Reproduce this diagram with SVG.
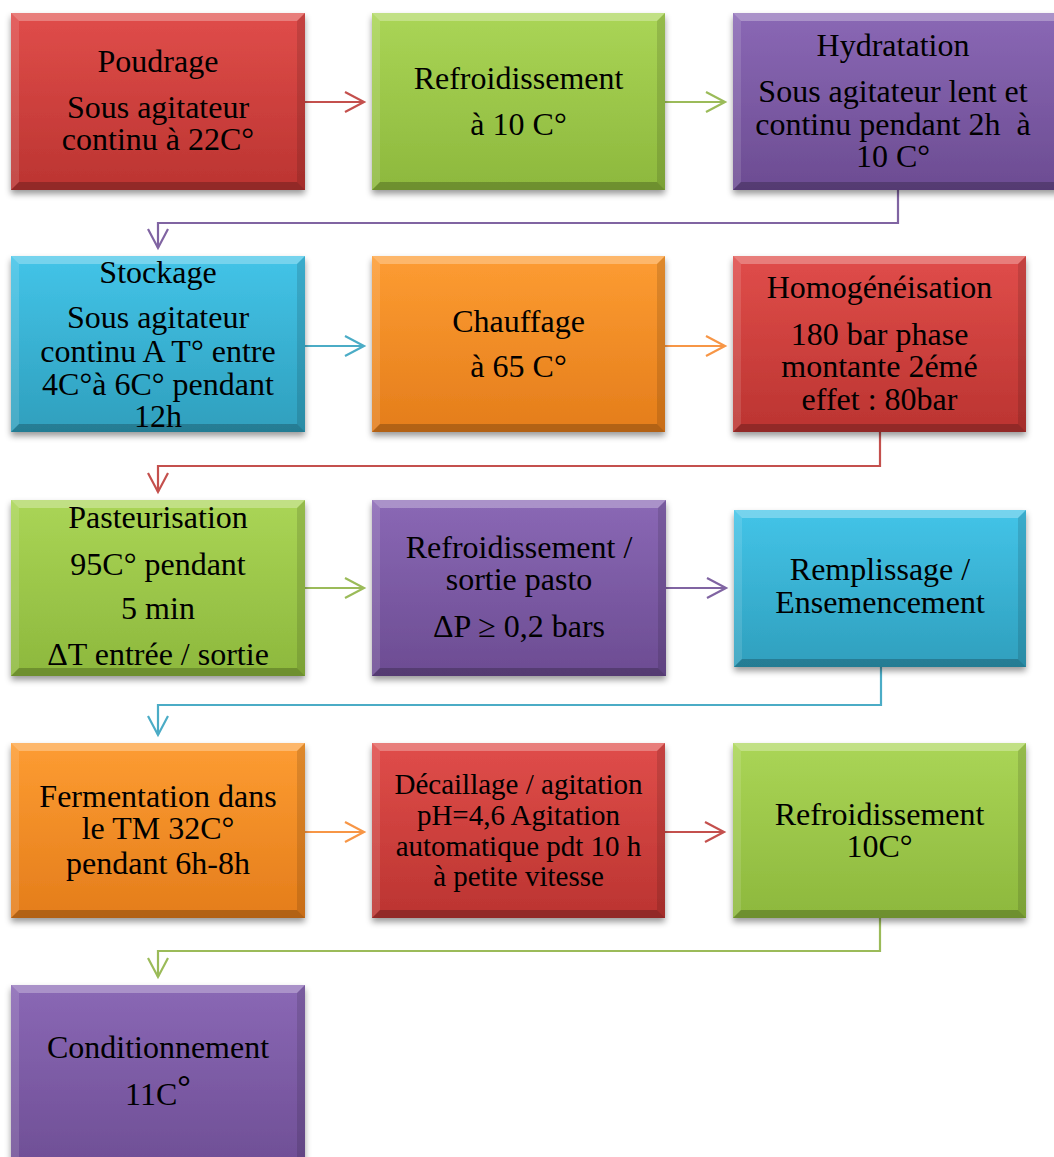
<svg xmlns="http://www.w3.org/2000/svg" width="1054" height="1157" viewBox="0 0 1054 1157">
<defs>
<linearGradient id="gRed" x1="0" y1="0" x2="0" y2="1"><stop offset="0" stop-color="#e04d4a"/><stop offset="1" stop-color="#bb3431"/></linearGradient>
<linearGradient id="gGreen" x1="0" y1="0" x2="0" y2="1"><stop offset="0" stop-color="#aad556"/><stop offset="1" stop-color="#8db83d"/></linearGradient>
<linearGradient id="gPurple" x1="0" y1="0" x2="0" y2="1"><stop offset="0" stop-color="#8a68b5"/><stop offset="1" stop-color="#6c4c92"/></linearGradient>
<linearGradient id="gCyan" x1="0" y1="0" x2="0" y2="1"><stop offset="0" stop-color="#43c4e8"/><stop offset="1" stop-color="#2f9fbd"/></linearGradient>
<linearGradient id="gOrange" x1="0" y1="0" x2="0" y2="1"><stop offset="0" stop-color="#fd9c32"/><stop offset="1" stop-color="#e47d1b"/></linearGradient>
<filter id="sh" x="-10%" y="-10%" width="120%" height="125%"><feDropShadow dx="0" dy="4" stdDeviation="3" flood-color="#000" flood-opacity="0.4"/></filter>
<marker id="aRed" markerUnits="userSpaceOnUse" markerWidth="30" markerHeight="30" refX="0" refY="0" viewBox="-25 -15 30 30" orient="auto" overflow="visible"><path d="M-19,-10 L0,0 L-19,10" fill="none" stroke="#c4504d" stroke-width="2.2"/></marker>
<marker id="aGreen" markerUnits="userSpaceOnUse" markerWidth="30" markerHeight="30" refX="0" refY="0" viewBox="-25 -15 30 30" orient="auto" overflow="visible"><path d="M-19,-10 L0,0 L-19,10" fill="none" stroke="#9bbb59" stroke-width="2.2"/></marker>
<marker id="aPurple" markerUnits="userSpaceOnUse" markerWidth="30" markerHeight="30" refX="0" refY="0" viewBox="-25 -15 30 30" orient="auto" overflow="visible"><path d="M-19,-10 L0,0 L-19,10" fill="none" stroke="#8064a2" stroke-width="2.2"/></marker>
<marker id="aCyan" markerUnits="userSpaceOnUse" markerWidth="30" markerHeight="30" refX="0" refY="0" viewBox="-25 -15 30 30" orient="auto" overflow="visible"><path d="M-19,-10 L0,0 L-19,10" fill="none" stroke="#4bacc6" stroke-width="2.2"/></marker>
<marker id="aOrange" markerUnits="userSpaceOnUse" markerWidth="30" markerHeight="30" refX="0" refY="0" viewBox="-25 -15 30 30" orient="auto" overflow="visible"><path d="M-19,-10 L0,0 L-19,10" fill="none" stroke="#f79646" stroke-width="2.2"/></marker>
</defs>
<style>
.box{filter:url(#sh)}
.red .b{fill:url(#gRed)} .green .b{fill:url(#gGreen)} .purple .b{fill:url(#gPurple)} .cyan .b{fill:url(#gCyan)} .orange .b{fill:url(#gOrange)}
.bt{fill:#fff;opacity:.28} .bl{fill:#fff;opacity:.12} .br{fill:#000;opacity:.12} .bb{fill:#000;opacity:.22}
text{font-family:"Liberation Serif","Times New Roman",serif;font-size:32px;fill:#000;text-anchor:middle}
.sm{font-size:29px}
.c{fill:none;stroke-width:2.2}
.cr{stroke:#c4504d}.cg{stroke:#9bbb59}.cp{stroke:#8064a2}.cc{stroke:#4bacc6}.co{stroke:#f79646}
</style>
<rect width="1054" height="1157" fill="#fff"/>

<g id="connectors">
<path class="c cr" d="M305,102 H364" marker-end="url(#aRed)"/>
<path class="c cg" d="M665,102 H725" marker-end="url(#aGreen)"/>
<path class="c cp" d="M898,190 V223 H158 V248" marker-end="url(#aPurple)"/>
<path class="c cc" d="M305,346 H364" marker-end="url(#aCyan)"/>
<path class="c co" d="M665,346 H725" marker-end="url(#aOrange)"/>
<path class="c cr" d="M880,432 V466 H158 V492" marker-end="url(#aRed)"/>
<path class="c cg" d="M305,588 H364" marker-end="url(#aGreen)"/>
<path class="c cp" d="M666,588 H726" marker-end="url(#aPurple)"/>
<path class="c cc" d="M881,667 V705 H158 V735" marker-end="url(#aCyan)"/>
<path class="c co" d="M305,832 H364" marker-end="url(#aOrange)"/>
<path class="c cr" d="M665,832 H724" marker-end="url(#aRed)"/>
<path class="c cg" d="M880,918 V951 H158 V977" marker-end="url(#aGreen)"/>
</g>

<g id="n1" class="red" transform="translate(11,13)">
<g class="box"><rect class="b" width="294" height="177"/></g>
<polygon class="bt" points="0,0 294,0 286,8 8,8"/><polygon class="bl" points="0,0 8,8 8,169 0,177"/><polygon class="br" points="294,0 294,177 286,169 286,8"/><polygon class="bb" points="0,177 8,169 286,169 294,177"/>
<text x="147" y="59">Poudrage</text><text x="147" y="105">Sous agitateur</text><text x="147" y="137">continu à 22C°</text>
</g>

<g id="n2" class="green" transform="translate(372,13)">
<g class="box"><rect class="b" width="293" height="177"/></g>
<polygon class="bt" points="0,0 293,0 285,8 8,8"/><polygon class="bl" points="0,0 8,8 8,169 0,177"/><polygon class="br" points="293,0 293,177 285,169 285,8"/><polygon class="bb" points="0,177 8,169 285,169 293,177"/>
<text x="146.5" y="76">Refroidissement</text><text x="146.5" y="122">à 10 C°</text>
</g>

<g id="n3" class="purple" transform="translate(733,13)">
<g class="box"><rect class="b" width="330" height="177"/></g>
<polygon class="bt" points="0,0 330,0 322,8 8,8"/><polygon class="bl" points="0,0 8,8 8,169 0,177"/><polygon class="bb" points="0,177 8,169 322,169 330,177"/>
<text x="160" y="43">Hydratation</text><text x="160" y="89">Sous agitateur lent et</text><text x="160" y="122" xml:space="preserve">continu pendant 2h  à</text><text x="160" y="154">10 C°</text>
</g>

<g id="n4" class="cyan" transform="translate(11,256)">
<g class="box"><rect class="b" width="294" height="176"/></g>
<polygon class="bt" points="0,0 294,0 286,8 8,8"/><polygon class="bl" points="0,0 8,8 8,168 0,176"/><polygon class="br" points="294,0 294,176 286,168 286,8"/><polygon class="bb" points="0,176 8,168 286,168 294,176"/>
<text x="147" y="27">Stockage</text><text x="147" y="72">Sous agitateur</text><text x="147" y="106">continu A T° entre</text><text x="147" y="139">4C°à 6C° pendant</text><text x="147" y="171">12h</text>
</g>

<g id="n5" class="orange" transform="translate(372,256)">
<g class="box"><rect class="b" width="293" height="176"/></g>
<polygon class="bt" points="0,0 293,0 285,8 8,8"/><polygon class="bl" points="0,0 8,8 8,168 0,176"/><polygon class="br" points="293,0 293,176 285,168 285,8"/><polygon class="bb" points="0,176 8,168 285,168 293,176"/>
<text x="146.5" y="76">Chauffage</text><text x="146.5" y="121">à 65 C°</text>
</g>

<g id="n6" class="red" transform="translate(733,256)">
<g class="box"><rect class="b" width="293" height="176"/></g>
<polygon class="bt" points="0,0 293,0 285,8 8,8"/><polygon class="bl" points="0,0 8,8 8,168 0,176"/><polygon class="br" points="293,0 293,176 285,168 285,8"/><polygon class="bb" points="0,176 8,168 285,168 293,176"/>
<text x="146.5" y="42">Homogénéisation</text><text x="146.5" y="89">180 bar phase</text><text x="146.5" y="121">montante 2émé</text><text x="146.5" y="154">effet : 80bar</text>
</g>

<g id="n7" class="green" transform="translate(11,500)">
<g class="box"><rect class="b" width="294" height="176"/></g>
<polygon class="bt" points="0,0 294,0 286,8 8,8"/><polygon class="bl" points="0,0 8,8 8,168 0,176"/><polygon class="br" points="294,0 294,176 286,168 286,8"/><polygon class="bb" points="0,176 8,168 286,168 294,176"/>
<text x="147" y="28">Pasteurisation</text><text x="147" y="75">95C° pendant</text><text x="147" y="119">5 min</text><text x="147" y="165">ΔT entrée / sortie</text>
</g>

<g id="n8" class="purple" transform="translate(372,500)">
<g class="box"><rect class="b" width="294" height="176"/></g>
<polygon class="bt" points="0,0 294,0 286,8 8,8"/><polygon class="bl" points="0,0 8,8 8,168 0,176"/><polygon class="br" points="294,0 294,176 286,168 286,8"/><polygon class="bb" points="0,176 8,168 286,168 294,176"/>
<text x="147" y="58">Refroidissement /</text><text x="147" y="90">sortie pasto</text><text x="147" y="137">ΔP ≥ 0,2 bars</text>
</g>

<g id="n9" class="cyan" transform="translate(734,510)">
<g class="box"><rect class="b" width="292" height="157"/></g>
<polygon class="bt" points="0,0 292,0 284,8 8,8"/><polygon class="bl" points="0,0 8,8 8,149 0,157"/><polygon class="br" points="292,0 292,157 284,149 284,8"/><polygon class="bb" points="0,157 8,149 284,149 292,157"/>
<text x="146" y="70">Remplissage /</text><text x="146" y="103">Ensemencement</text>
</g>

<g id="n10" class="orange" transform="translate(11,743)">
<g class="box"><rect class="b" width="294" height="175"/></g>
<polygon class="bt" points="0,0 294,0 286,8 8,8"/><polygon class="bl" points="0,0 8,8 8,167 0,175"/><polygon class="br" points="294,0 294,175 286,167 286,8"/><polygon class="bb" points="0,175 8,167 286,167 294,175"/>
<text x="147" y="64">Fermentation dans</text><text x="147" y="96">le TM 32C°</text><text x="147" y="131">pendant 6h-8h</text>
</g>

<g id="n11" class="red" transform="translate(372,743)">
<g class="box"><rect class="b" width="293" height="175"/></g>
<polygon class="bt" points="0,0 293,0 285,8 8,8"/><polygon class="bl" points="0,0 8,8 8,167 0,175"/><polygon class="br" points="293,0 293,175 285,167 285,8"/><polygon class="bb" points="0,175 8,167 285,167 293,175"/>
<text class="sm" x="146.5" y="51">Décaillage / agitation</text><text class="sm" x="146.5" y="82">pH=4,6 Agitation</text><text class="sm" x="146.5" y="113">automatique pdt 10 h</text><text class="sm" x="146.5" y="143">à petite vitesse</text>
</g>

<g id="n12" class="green" transform="translate(733,743)">
<g class="box"><rect class="b" width="293" height="175"/></g>
<polygon class="bt" points="0,0 293,0 285,8 8,8"/><polygon class="bl" points="0,0 8,8 8,167 0,175"/><polygon class="br" points="293,0 293,175 285,167 285,8"/><polygon class="bb" points="0,175 8,167 285,167 293,175"/>
<text x="146.5" y="82">Refroidissement</text><text x="146.5" y="114">10C°</text>
</g>

<g id="n13" class="purple" transform="translate(11,985)">
<g class="box"><rect class="b" width="294" height="200"/></g>
<polygon class="bt" points="0,0 294,0 286,8 8,8"/><polygon class="bl" points="0,0 8,8 8,192 0,200"/><polygon class="br" points="294,0 294,200 286,192 286,8"/>
<text x="147" y="73">Conditionnement</text><text x="147" y="120">11C<tspan font-weight="bold" font-size="34" dy="-7">°</tspan></text>
</g>
</svg>
